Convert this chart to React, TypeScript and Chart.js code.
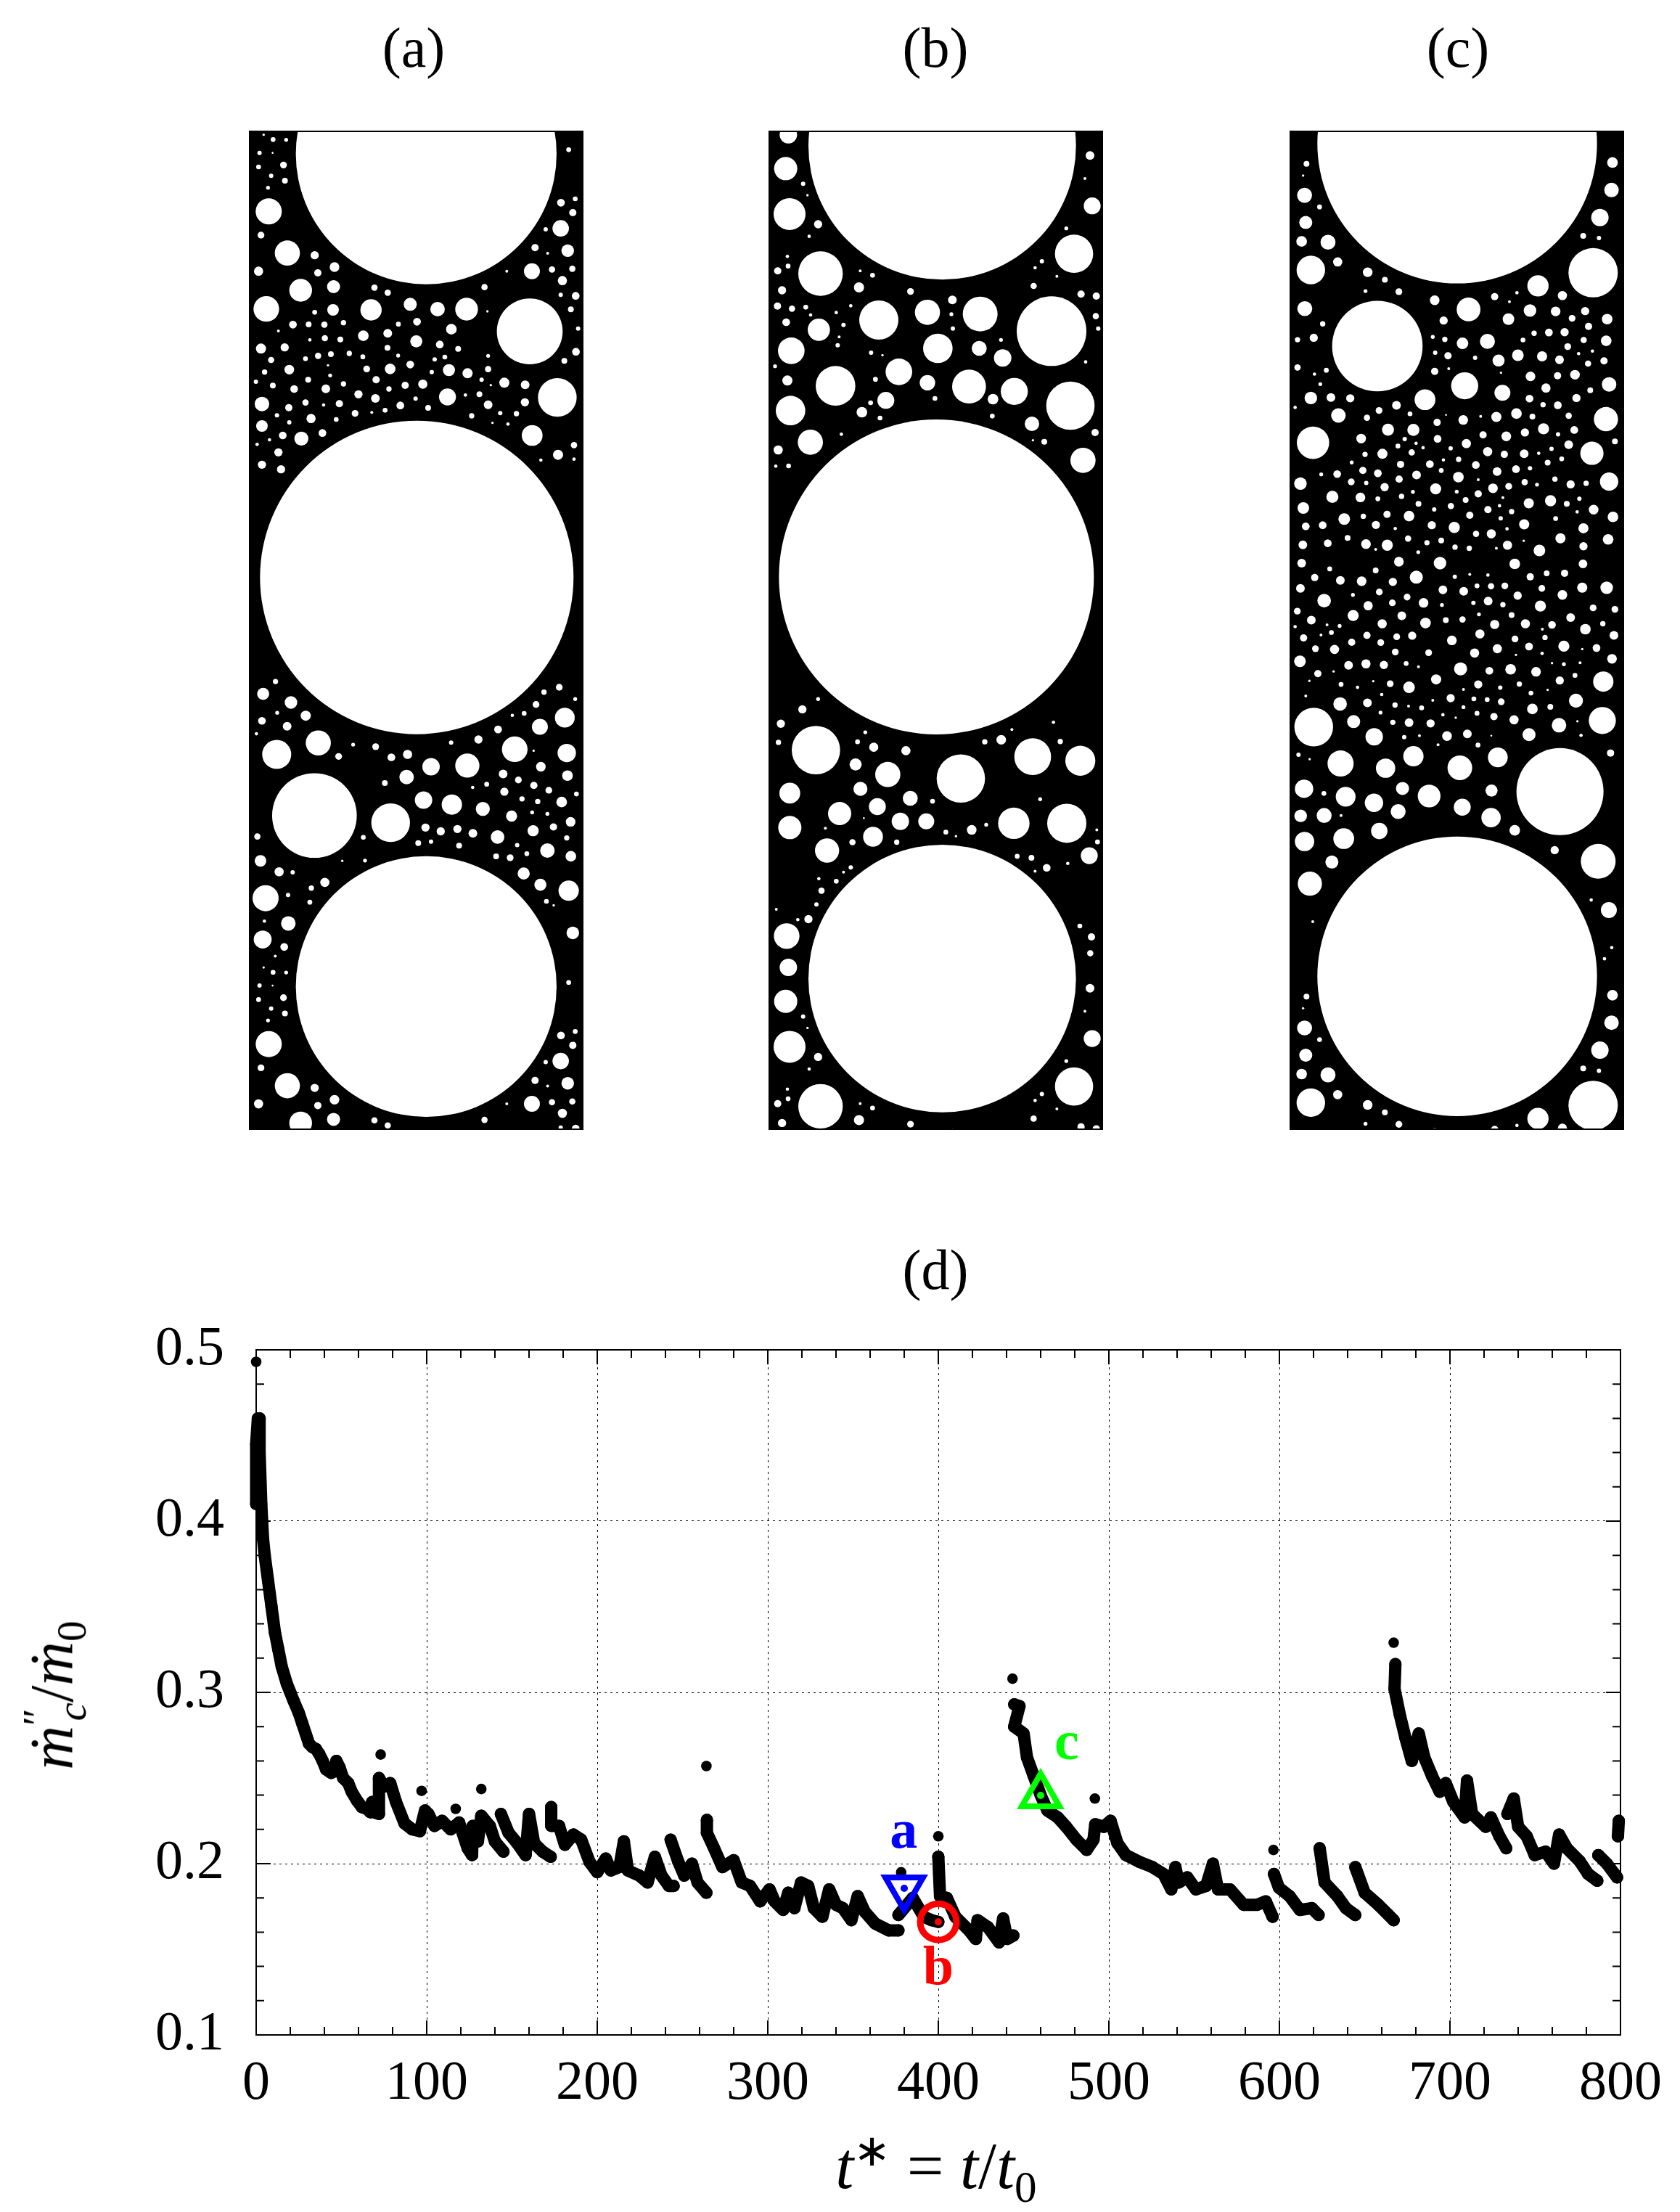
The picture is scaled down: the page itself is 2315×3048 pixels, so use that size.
import React, { useEffect, useRef } from "react";
import { Chart, registerables } from "chart.js";

Chart.register(...registerables);

// ---------- panel holes: [x, y, r] ----------
const holesA1 = [771,126,539, 732,1877,648,
138,67,10,192,68,8,82,122,9,136,122,4,181,172,14,78,180,10,130,217,9,187,237,12,117,266,8,1360,109,10,99,47,5,
120,364,54,88,462,14,197,536,52,310,545,17,392,594,20,78,611,19,323,618,15,252,690,47,388,675,27,110,767,53,557,679,13,612,700,13,386,771,24,310,781,10,543,771,44,705,748,27,818,768,30,938,768,47,1012,677,13,1328,328,16,1387,312,10,1377,369,15,1327,434,34,1265,438,9,1221,514,15,1356,526,26,1273,537,6,1208,611,33,1291,604,13,1375,601,13,1104,611,6,1334,650,19,1327,709,9,1389,713,16,1369,769,12,1199,860,136,1024,777,5,1399,848,9,220,832,16,285,831,12,350,832,13,429,824,11,160,858,6,612,868,18,656,830,10,733,820,16,875,851,22,352,888,13,416,893,12,511,878,22,730,901,25,290,895,7,88,931,21,186,926,17,611,928,12,827,914,16,903,932,12,1390,944,16,453,951,11,324,961,13,377,954,12,272,973,10,130,978,13,509,965,10,655,960,8,806,976,9,848,966,10,1027,961,8,1342,982,12,705,997,16,205,1018,20,365,1000,5,622,1015,22,525,1015,14,865,1020,25,942,1033,21,1027,1016,13,794,1028,9,103,1028,11,283,1060,12,374,1042,8,67,1068,9,564,1060,15,1000,1060,9,1094,1072,21,1180,1081,18,137,1084,12,225,1098,16,429,1077,11,684,1083,15,757,1078,19,356,1097,18,1038,1082,5,1313,1133,80,617,1098,11,859,1131,35,491,1120,17,561,1137,18,991,1120,12,933,1123,7,727,1138,9,272,1154,13,92,1160,30,1179,1153,17,203,1175,15,347,1164,7,412,1159,15,664,1166,16,1027,1163,18,779,1176,12,477,1199,14,601,1186,10,546,1195,6,1077,1198,9,1144,1200,11,154,1207,9,959,1209,11,295,1220,19,205,1236,9,399,1224,10,92,1251,24,1045,1238,5,1109,1243,7,342,1280,16,178,1290,16,1209,1290,43,255,1303,29,123,1308,7,72,1327,7,1382,1330,13,160,1360,17,1316,1370,21,1245,1392,7,1382,1388,7,92,1411,17,171,1430,17];

const holesA2 = [148,23,11,97,66,25,212,96,26,1321,43,14,1258,60,11,1225,103,14,1387,84,8,155,132,8,273,142,21,92,160,16,196,179,18,1127,141,7,1176,134,10,1344,149,41,1241,181,33,1068,190,16,69,205,7,325,237,52,153,277,60,469,243,8,562,250,14,409,284,14,627,287,16,694,277,19,987,225,17,874,236,9,1137,259,53,1352,272,38,1215,264,5,1245,320,20,791,320,36,941,316,50,690,356,30,1089,345,18,1152,366,14,1355,351,22,600,377,12,1021,381,10,963,392,7,1094,407,17,1216,385,15,1278,402,14,1392,415,10,760,436,36,877,452,42,1005,467,29,309,490,175,624,515,80,1124,492,23,1167,432,11,1232,441,11,1331,443,22,1272,484,8,1209,479,8,1368,512,20,768,532,17,831,545,17,900,537,17,964,552,18,1066,565,28,1213,543,23,1297,530,15,511,566,10,1352,568,11,738,586,12,791,581,9,907,595,12,1147,593,9,1272,612,30,1060,632,12,1118,637,14,1187,623,10,1369,632,22,73,563,13,86,648,24,163,686,19,219,688,9,518,647,8,424,648,5,352,723,19,296,743,11,1174,692,25,1243,731,25,1360,752,42,107,778,54,200,767,9,290,792,10,1268,789,10,1298,803,5,102,858,7,201,866,30,95,922,37,184,948,16,1377,899,26,147,980,6];

const holesB1 = [775,93,553, 751,1875,651,
139,47,36,128,187,48,200,250,9,218,297,5,144,375,66,262,417,17,225,467,7,272,621,92,135,550,7,95,610,15,138,590,10,113,690,17,487,628,10,431,678,21,436,610,6,644,695,14,1153,672,13,1320,539,79,1187,570,9,1159,597,7,1249,632,6,1395,341,35,1386,133,18,1365,228,6,1288,434,8,817,730,18,932,788,72,714,781,52,513,813,81,1227,859,144,94,755,15,154,766,13,211,760,10,397,754,7,337,782,7,231,792,7,130,822,16,265,853,46,367,833,9,813,789,8,819,848,9,1410,797,13,1420,848,9,1349,706,15,1412,714,15,349,883,6,757,930,61,928,930,31,1025,970,36,1018,895,8,151,940,55,343,917,9,481,948,9,528,958,5,84,1004,8,1368,986,7,596,1027,55,499,1058,10,135,1063,21,334,1085,82,714,1072,32,886,1088,70,1073,1108,56,1305,1167,100,148,1187,61,542,1145,35,745,1137,10,443,1194,22,518,1218,10,982,1210,10,1146,1242,30,1407,1278,15,230,1318,52,97,1350,19,1197,1316,12,1357,1393,52,358,1285,7,140,1416,10,87,1417,7,1150,1310,5,985,1140,22,479,1155,10];

const holesB2 = [262,84,8,197,120,17,108,170,17,457,200,8,253,262,100,98,235,11,425,233,10,492,252,19,625,264,19,951,233,11,1019,226,20,1063,190,6,1235,165,7,1149,285,76,1346,299,62,1263,232,11,417,312,25,550,347,52,852,361,100,145,412,43,437,397,29,643,430,31,735,440,10,1290,517,81,1071,517,65,507,459,35,351,483,48,145,532,48,602,510,36,709,510,33,897,540,20,790,548,10,957,522,8,292,534,6,451,499,4,489,564,41,404,583,13,587,583,11,832,562,5,299,612,50,1383,630,35,1417,582,10,1414,540,6,1180,433,8,1085,632,10,1144,637,12,1294,657,7,1207,672,16,1159,684,6,397,671,9,367,687,6,337,719,10,276,752,13,265,710,7,255,800,9,89,817,6,222,851,17,178,853,7,132,910,53,1344,875,10,1392,913,15,1387,970,13];

const holesC1 = [773,73,578,
150,146,12,136,188,5,142,259,31,204,301,10,147,357,27,130,425,22,239,428,31,168,528,59,279,499,19,403,536,20,474,563,12,394,604,8,532,606,14,143,667,31,1415,141,22,1411,240,30,1363,339,36,1294,405,12,1359,413,9,1335,538,102,1107,585,44,1208,620,19,1020,610,7,928,624,15,680,637,20,820,670,49,443,802,187,1074,674,26,1180,677,20,1302,676,17,1248,702,14,1393,705,22,985,705,24,717,710,17,989,642,6,217,722,11,180,772,17,113,779,11,1152,753,16,1217,752,17,1091,756,11,1316,731,15,672,769,8,722,778,11,795,792,24,898,785,31,1045,780,10,1296,780,13,1389,783,22,1230,804,14,1332,820,7,682,826,9,735,837,15,847,844,9,944,854,25,1024,835,24,1124,839,21,1196,851,18,1275,829,7,1380,855,15,1314,865,13,113,879,13,232,889,10,680,893,15,738,883,6,954,898,5,183,903,7,1076,911,20,1188,909,15,1260,905,20,804,945,56,960,970,33,207,939,8,1140,953,19,1401,940,30,1323,961,12,168,989,26,251,987,18,331,990,17,640,995,43,522,1015,18,1072,991,16,1266,989,17,1128,1013,11,1189,1015,16,103,1023,7,450,1034,14,282,1052,30,578,1046,10,400,1060,13,935,1057,21,1018,1045,22,1084,1056,12,1234,1053,13,1388,1065,50,798,1068,20,690,1077,15,727,1050,4,870,1055,6,177,1150,67,487,1103,25,592,1104,25,1130,1100,23,880,1122,15,1053,1113,17,1257,1104,16,976,1127,20,376,1135,20,1190,1120,9,692,1136,16,1330,1188,48,1234,1157,18,556,1137,9,811,1153,19,1425,1145,12,603,1152,7,528,1162,10,632,1168,7,746,1170,9,1163,1172,9,899,1182,19,968,1192,15,1050,1190,18,392,1192,11,464,1190,21,585,1185,13,1110,1188,7,779,1210,11,716,1212,7,337,1221,8,660,1227,16,539,1228,15,1205,1208,10,1147,1222,12,850,1230,16,383,1250,15,445,1260,16,938,1254,18,1016,1245,16,1074,1242,9,211,1264,8,277,1263,16,605,1266,18,707,1250,10,125,1297,26,335,1291,14,397,1295,9,533,1281,15,778,1274,22,860,1283,6,1177,1281,11,1242,1300,17,1401,1290,38,1306,1296,11,473,1310,17,684,1316,23,921,1314,20,986,1307,14,1052,1292,13,1103,1301,8,257,1345,25,373,1347,20,543,1343,11,590,1327,8,771,1326,8,860,1334,15,445,1352,10,1278,1352,9,808,1356,12,962,1348,6,137,1385,24,1069,1368,21,1159,1359,23,1226,1370,12,613,1370,12,747,1378,13,948,1377,7,900,1391,15,678,1390,9,1337,1391,20,1269,1399,7,483,1408,15,385,1415,11,306,1425,24,574,1414,22,825,1411,15,998,1398,11,1180,1423,10,1417,1417,22,953,1422,9,217,1447,16,147,1451,16,437,1446,17,668,1447,17,761,1455,23,1050,1444,21,1295,1458,21,517,1459,7,979,1460,7,851,1478,13,914,1478,19,1200,1494,21,1397,1498,22,320,1493,12,570,1495,13,707,1502,12,238,1512,16,135,1518,18,396,1515,20,484,1519,23,648,1510,11,1048,1503,5,981,1519,19,764,1526,11,823,1530,11,1113,1538,24,1295,1523,17,436,1534,6,612,1544,8,935,1530,6];

const holesC2 = [130,12,18,532,8,20,702,12,26,1011,14,22,1293,14,18,184,52,15,246,28,10,436,32,12,604,51,27,378,62,20,290,60,18,507,64,17,763,50,9,825,43,6,900,45,7,1075,50,15,1143,40,12,1217,40,15,1391,80,26,125,82,18,451,92,14,714,86,18,800,90,18,855,75,10,913,76,13,970,75,14,1123,82,14,1290,80,21,223,116,28,342,100,8,566,106,14,1208,100,20,1023,102,17,405,130,19,505,122,14,634,122,20,901,117,18,710,128,8,840,122,9,1117,131,23,962,127,11,1335,136,14,112,145,14,343,157,23,544,158,18,795,168,13,863,154,8,998,156,12,1242,163,18,1425,140,14,170,170,18,463,180,19,642,178,22,726,170,12,928,182,19,1055,180,19,1165,183,16,235,183,6,287,186,8,103,188,7,1303,195,22,1375,180,11,253,204,10,400,212,15,587,213,17,210,211,6,867,208,19,1012,222,14,1125,195,6,1136,218,11,138,219,15,523,216,14,1421,212,18,337,231,15,457,232,14,751,226,20,1070,243,16,1214,242,23,1349,247,16,187,249,14,266,251,19,939,249,19,517,258,14,845,261,19,655,260,14,1290,250,5,1124,262,7,1016,266,5,123,284,24,324,295,18,396,291,19,470,294,17,562,290,10,1413,277,20,1214,292,8,1165,289,5,1281,288,6,787,305,27,613,299,6,906,310,16,994,306,22,197,318,15,1099,313,20,262,312,5,686,334,21,1260,323,10,1197,337,17,162,338,5,1377,340,42,426,339,5,496,346,14,574,356,24,860,348,17,951,357,9,1030,347,11,293,348,10,799,362,6,361,356,7,1147,363,5,1078,372,10,147,380,6,461,376,7,746,386,17,842,388,10,672,392,6,1264,393,29,897,390,10,289,402,28,402,399,18,955,396,14,1084,416,22,1158,410,12,516,405,11,572,408,6,626,413,10,799,411,8,456,426,8,714,432,7,767,440,5,855,428,10,925,437,15,1373,448,56,1008,446,19,180,466,80,345,451,27,507,453,11,574,454,18,663,456,17,1194,461,30,1270,450,5,1070,487,27,430,493,36,554,494,9,617,490,6,731,491,20,815,485,18,914,490,4,859,516,10,694,515,6,1285,489,7,117,543,9,163,555,5,291,567,54,592,547,42,941,550,41,784,579,51,1407,538,15,477,580,40,1198,645,180,140,637,38,222,650,10,312,659,41,547,636,27,657,657,47,915,642,25,429,676,38,794,688,35,126,712,26,223,711,31,529,700,31,293,711,6,913,717,40,451,754,34,142,783,40,304,775,43,1011,752,22,1176,807,17,1356,838,72,255,840,27,164,900,50,1400,973,33,1327,945,7,1412,1077,7,1382,1108,7,176,1005,6];

// ---------- panel (d): series ----------
const spikes = [[0,0.493],[73,0.2637],[97,0.2425],[117,0.232],[132,0.2436],[264,0.257],[378.2,0.195],[400,0.216],[443.5,0.308],[491.8,0.238],[596.5,0.208],[667,0.329]];
const run1 = [[0,0.41],[0,0.445],[1,0.46],[2,0.46],[2,0.44],[3,0.41],[4,0.39],[5,0.38],[7,0.365],[9,0.35],[11,0.335],[13,0.325],[15,0.315],[18,0.305],[20,0.3],[22,0.295],[25,0.288],[27,0.282],[29,0.276],[31,0.27],[33,0.268],[35,0.267],[37,0.264],[39,0.26],[41,0.255],[44,0.253],[46,0.254],[47,0.26],[49,0.256],[51,0.25],[54,0.247],[56,0.242],[59,0.237],[62,0.233],[65,0.232],[67,0.23],[68,0.236],[69,0.23],[72,0.229],[72,0.25],[75,0.245],[78.6,0.247],[82,0.236],[87,0.2235],[91.5,0.22],[96,0.219],[99,0.231],[101,0.229],[104.5,0.222],[109,0.225],[114,0.22],[119,0.224],[124,0.209],[126.6,0.205],[127,0.222],[130,0.213],[132,0.228],[137,0.222],[140,0.213],[145,0.207]];
const run2 = [[143.5,0.229],[148,0.218],[153,0.212],[158,0.205],[160,0.229],[163,0.212],[168,0.207],[172.7,0.204]];
const run3 = [[173,0.233],[173,0.222],[177.6,0.222],[181,0.211],[186,0.217],[190.6,0.214],[195.5,0.201],[200,0.195],[205,0.203],[208,0.196],[213,0.198],[215.6,0.213],[218,0.196],[224.7,0.193],[229.5,0.189],[233.8,0.204],[237.7,0.193],[242,0.187],[244.8,0.187]];
const run4 = [[243,0.214],[247.4,0.2015],[251,0.193],[255.5,0.2],[258.8,0.189],[264,0.183]];
const run5 = [[264.3,0.2255],[264.3,0.218],[268.5,0.209],[273.4,0.198],[280,0.202],[284.7,0.189],[289.6,0.187],[295.5,0.178],[301,0.185],[304,0.178],[309,0.173],[312,0.183],[315.6,0.174],[319.5,0.189],[323.7,0.187],[327,0.174],[332,0.169],[336,0.185],[340,0.176],[344,0.174],[349,0.167],[352.7,0.181],[356.8,0.172],[363,0.165],[371,0.161],[376.6,0.161]];
const run6 = [[376.6,0.17],[385,0.18],[391.5,0.169],[396,0.167],[400,0.166]];
const run7 = [[400,0.204],[401,0.181],[405,0.18],[410,0.169],[418,0.161],[422,0.156],[423,0.167],[429,0.163],[435.6,0.154],[438,0.168],[440.4,0.156],[444,0.158]];
const run8 = [[444.5,0.293],[447.6,0.292],[444.5,0.28],[450,0.276],[452,0.262],[456,0.251],[460,0.24],[464,0.231],[470,0.227],[475,0.2215],[481,0.214],[487,0.208],[491,0.214],[492,0.223],[497,0.2215],[501,0.225],[505,0.212],[510,0.205],[518,0.201],[525.5,0.198],[532,0.194],[536.6,0.185],[539,0.198],[541,0.189],[546,0.192],[551,0.185],[557,0.187],[561,0.2],[564,0.185],[571,0.185],[579,0.176],[587,0.176],[592,0.178],[596,0.169]];
const run9 = [[596.8,0.194],[599.7,0.186],[606,0.181],[612,0.173],[619,0.174],[623,0.17]];
const run10 = [[623.6,0.209],[626.5,0.189],[634,0.181],[639,0.174],[644.5,0.17]];
const run11 = [[644.5,0.198],[650,0.183],[658,0.176],[664,0.17],[667,0.167]];
const run12 = [[668,0.3165],[667.5,0.302],[670.6,0.287],[674,0.273],[677.6,0.26],[681.7,0.276],[685,0.262],[689.6,0.251],[694,0.242],[697.5,0.247],[702,0.236],[708.6,0.227],[710,0.2485],[713,0.229],[721,0.2215],[724,0.227],[729,0.216],[733,0.209]];
const run13 = [[733.7,0.229],[737.4,0.238],[740,0.2215],[745,0.216],[749.7,0.205],[756,0.207],[761,0.2],[764,0.217],[768.5,0.209],[776,0.2015],[781,0.194],[786.4,0.19]];
const run14 = [[787,0.205],[792,0.2],[798,0.192]];
const run15 = [[798.5,0.216],[799,0.225]];
const runs = [run1,run2,run3,run4,run5,run6,run7,run8,run9,run10,run11,run12,run13,run14,run15];

const xTicks = [0,100,200,300,400,500,600,700,800];
const yTicks = [0.1,0.2,0.3,0.4,0.5];
const pointA = [380,0.1856];
const pointB = [400,0.166];
const pointC = [460,0.2398];
const letters = [
  { text: "a", t: 379.7, y: 0.2175, color: "#0000ff" },
  { text: "b", t: 400, y: 0.138, color: "#ff0000" },
  { text: "c", t: 475.3, y: 0.2695, color: "#00ff00" },
];

// ---------- layout ----------
const SERIF = '"Liberation Serif", serif';
const PANEL_TOP = 180, PANEL_H = 1377, PANEL_W = 461, PERIOD = 1147.4;

type Hole = { x: number; y: number; r: number };
function read(list: number[], ox: number, oy: number, sy: number): Hole[] {
  const out: Hole[] = [];
  for (let i = 0; i < list.length; i += 3) out.push({ x: ox + list[i] / 3, y: oy + list[i + 1] / sy, r: list[i + 2] / 3 });
  return out;
}
function withRepeat(h: Hole[]): Hole[] {
  return h.concat(h.filter((p) => p.y < 440).map((p) => ({ ...p, y: p.y + PERIOD })));
}
const panels = [
  { left: 342.7, holes: withRepeat([...read(holesA1, 330, 170, 3), ...read(holesA2, 330, 930, 1568 / 620)]) },
  { left: 1059, holes: withRepeat([...read(holesB1, 1040, 170, 3), ...read(holesB2, 1040, 930, 1568 / 620)]) },
  { left: 1776.7, holes: withRepeat([...read(holesC1, 1750, 170, 1568 / 600), ...read(holesC2, 1750, 770, 1568 / 780)]) },
];

function Panel({ left, holes }: { left: number; holes: Hole[] }) {
  const ref = useRef<HTMLCanvasElement>(null);
  useEffect(() => {
    const chart = new Chart(ref.current!, {
      type: "bubble",
      data: { datasets: [{ data: holes, backgroundColor: "#fff", borderWidth: 0, hoverRadius: 0 }] },
      options: {
        animation: false, responsive: false, events: [],
        layout: { padding: 0, autoPadding: false },
        plugins: { legend: { display: false }, tooltip: { enabled: false } },
        scales: {
          x: { type: "linear", display: false, min: left, max: left + PANEL_W },
          y: { type: "linear", display: false, min: PANEL_TOP, max: PANEL_TOP + PANEL_H, reverse: true },
        },
      },
      plugins: [{
        id: "frame",
        beforeDatasetsDraw(c: any) {
          const a = c.chartArea, g = c.ctx;
          g.fillStyle = "#000";
          g.fillRect(a.left, a.top, a.width, a.height);
        },
        afterDatasetsDraw(c: any) {
          const a = c.chartArea, g = c.ctx;
          g.strokeStyle = "#000"; g.lineWidth = 4;
          g.strokeRect(a.left, a.top, a.width, a.height);
        },
      }],
    } as any);
    return () => chart.destroy();
  }, []);
  return <canvas ref={ref} width={PANEL_W} height={PANEL_H}
    style={{ position: "absolute", left, top: PANEL_TOP, width: PANEL_W, height: PANEL_H }} />;
}

function Main() {
  const ref = useRef<HTMLCanvasElement>(null);
  useEffect(() => {
    const toPts = (a: number[][]) => a.map(([x, y]) => ({ x, y }));
    const datasets: any[] = runs.map((r) => ({
      data: toPts(r), showLine: true, borderColor: "#000", backgroundColor: "#000",
      borderWidth: 17, borderCapStyle: "round", borderJoinStyle: "round", pointRadius: 8.5, pointBorderWidth: 0, clip: false, order: 3,
    }));
    datasets.push({ data: toPts(spikes), backgroundColor: "#000", pointRadius: 7.3, pointBorderWidth: 0, clip: false, order: 3 });
    const mark = (p: number[], color: string, style: string, rot: number, radius: number, w: number) => [
      { data: toPts([p]), pointStyle: style, rotation: rot, pointRadius: radius, pointBorderWidth: w, pointBorderColor: color, backgroundColor: "transparent", clip: false, order: 1 },
      { data: toPts([p]), pointStyle: "circle", pointRadius: 5, pointBorderWidth: 0, backgroundColor: color, clip: false, order: 1 },
    ];
    datasets.push(...mark(pointA, "#0000ff", "triangle", 180, 30, 8));
    datasets.push(...mark(pointB, "#ff0000", "circle", 0, 25, 9));
    datasets.push(...mark(pointC, "#00ff00", "triangle", 0, 30, 8));

    const chart = new Chart(ref.current!, {
      type: "scatter",
      data: { datasets },
      options: {
        animation: false, responsive: false, events: [],
        layout: { padding: { top: 160, right: 82, left: 0, bottom: 0 }, autoPadding: false },
        plugins: { legend: { display: false }, tooltip: { enabled: false } },
        scales: {
          x: {
            type: "linear", min: 0, max: 800,
            afterFit: (s: any) => { s.height = 244; },
            afterBuildTicks: (s: any) => { s.ticks = xTicks.map((value) => ({ value })); },
            ticks: { autoSkip: false, maxRotation: 0, font: { family: SERIF, size: 76 }, color: "#000", padding: 22, callback: (v: number) => String(v) },
            grid: { drawTicks: false, color: "#000", lineWidth: 1 },
            border: { dash: [3, 5], display: false },
          },
          y: {
            type: "linear", min: 0.1, max: 0.5,
            afterFit: (s: any) => { s.width = 353; },
            afterBuildTicks: (s: any) => { s.ticks = yTicks.map((value) => ({ value })); },
            ticks: { autoSkip: false, font: { family: SERIF, size: 76 }, color: "#000", padding: 44, callback: (v: number) => v.toFixed(1) },
            grid: { drawTicks: false, color: "#000", lineWidth: 1 },
            border: { dash: [3, 5], display: false },
          },
        },
      },
      plugins: [{
        id: "frameTicks",
        afterDraw(c: any) {
          const g = c.ctx, a = c.chartArea, X = c.scales.x, Y = c.scales.y;
          g.save();
          g.strokeStyle = "#000"; g.lineWidth = 2;
          g.strokeRect(a.left, a.top, a.width, a.height);
          g.beginPath();
          for (let i = 0; i <= 40; i++) {
            const v = i * 20, px = X.getPixelForValue(v), len = i % 5 === 0 ? 20 : 11;
            g.moveTo(px, a.bottom); g.lineTo(px, a.bottom - len);
            g.moveTo(px, a.top); g.lineTo(px, a.top + len);
          }
          for (let i = 0; i <= 20; i++) {
            const v = 0.1 + i * 0.02, py = Y.getPixelForValue(v), len = i % 5 === 0 ? 20 : 11;
            g.moveTo(a.left, py); g.lineTo(a.left + len, py);
            g.moveTo(a.right, py); g.lineTo(a.right - len, py);
          }
          g.stroke();
          g.font = `bold 76px ${SERIF}`;
          g.textAlign = "center"; g.textBaseline = "middle";
          for (const l of letters) {
            g.fillStyle = l.color;
            g.fillText(l.text, X.getPixelForValue(l.t), Y.getPixelForValue(l.y));
          }
          g.restore();
        },
      }],
    } as any);
    return () => chart.destroy();
  }, []);
  return <canvas ref={ref} width={2315} height={1348}
    style={{ position: "absolute", left: 0, top: 1700, width: 2315, height: 1348 }} />;
}

const label = (cx: number, cy: number, size = 78): React.CSSProperties => ({
  position: "absolute", left: cx, top: cy, transform: "translate(-50%,-50%)",
  fontFamily: SERIF, fontSize: size, lineHeight: 1, whiteSpace: "nowrap", color: "#000",
});
const supSub: React.CSSProperties = { fontSize: "0.68em", lineHeight: 0 };

export default function App() {
  return (
    <div style={{ position: "absolute", left: 0, top: 0, width: 2315, height: 3048, background: "#fff", overflow: "hidden" }}>
      <div style={label(570, 66)}>(a)</div>
      <div style={label(1289, 66)}>(b)</div>
      <div style={label(2009, 66)}>(c)</div>
      <div style={label(1289, 1750)}>(d)</div>
      {panels.map((p) => <Panel key={p.left} left={p.left} holes={p.holes} />)}
      <Main />
      <div style={label(1290, 2985, 90)}>
        <i>t</i><sup style={supSub}>∗</sup> = <i>t</i>/<i>t</i><sub style={supSub}>0</sub>
      </div>
      <div style={{ ...label(72, 2336, 84), transform: "translate(-50%,-50%) rotate(-90deg)" }}>
        <i>ṁ</i><sup style={supSub}>″</sup><sub style={{ ...supSub, marginLeft: "-0.3em" }}><i>c</i></sub>/<i>ṁ</i><sub style={supSub}>0</sub>
      </div>
    </div>
  );
}
